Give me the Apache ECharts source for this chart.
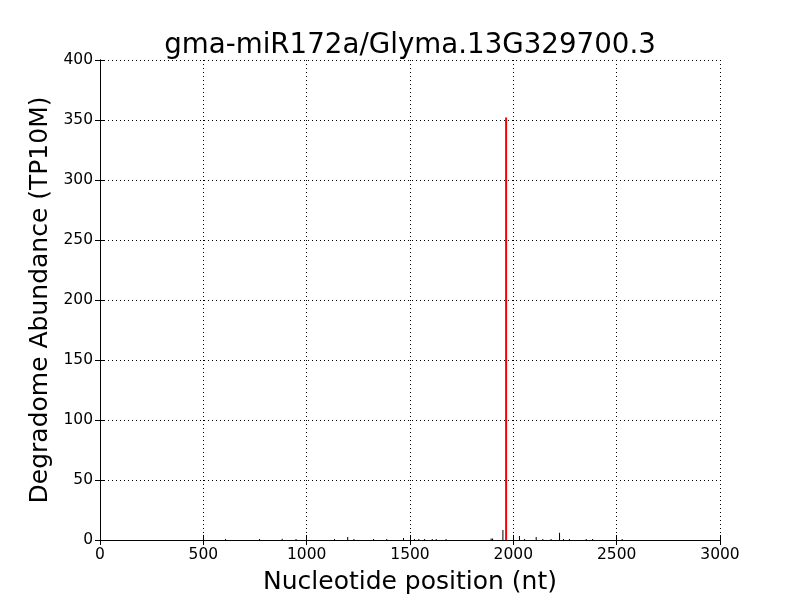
<!DOCTYPE html>
<html><head><meta charset="utf-8">
<script src="https://cdn.jsdelivr.net/npm/echarts@6/dist/echarts.min.js"></script>
<style>html,body{margin:0;padding:0;background:#fff}#c{width:800px;height:600px}</style>
</head><body><div id="c"></div>
<script>
const titleText = 'gma-miR172a/Glyma.13G329700.3';
const xLabel = 'Nucleotide position (nt)';
const yLabel = 'Degradome Abundance (TP10M)';
const blackPos = [610, 774, 884, 951, 1137, 1201, 1231, 1326, 1390, 1471, 1524, 1545, 1573, 1610, 1629, 1677, 1895, 1902, 1952, 2032, 2057, 2113, 2145, 2185, 2226, 2245, 2274, 2355, 2386, 2529];
const blackVal = [0.8, 0.8, 1, 0.8, 0.8, 2.5, 0.8, 0.8, 0.8, 1.7, 0.8, 0.8, 0.8, 0.8, 0.8, 0.8, 1.2, 1.2, 8.3, 3.3, 0.8, 2.5, 0.8, 0.8, 6, 0.8, 0.8, 0.8, 0.8, 0.8];
const redPos = [1965];
const redVal = [352];

const font = 'DejaVu Sans';
const chart = echarts.init(document.getElementById('c'), null, {renderer: 'canvas'});
const tickIn = {show: true, inside: true, length: 5, lineStyle: {color: '#000', width: 1}};
const split = {show: true, lineStyle: {color: '#000', type: [1, 3], width: 1}};
const plain = v => String(v);
chart.setOption({
  animation: false,
  title: {text: titleText, left: 405, top: 27, textAlign: 'center',
    textStyle: {fontFamily: font, fontSize: 27.7, fontWeight: 'normal', color: '#000'}},
  grid: {left: 100, right: 80, top: 60, bottom: 60, containLabel: false},
  xAxis: [
    {type: 'value', min: 0, max: 3000, interval: 500, position: 'bottom',
     name: xLabel, nameLocation: 'middle', nameGap: 30,
     nameTextStyle: {fontFamily: font, fontSize: 25, color: '#000'},
     axisLine: {show: true, lineStyle: {color: '#000', width: 1}},
     axisTick: tickIn, splitLine: split,
     axisLabel: {fontFamily: font, fontSize: 15.5, color: '#000', margin: 7, formatter: plain}},
    {type: 'value', min: 0, max: 3000, interval: 500, position: 'top',
     axisLine: {show: true, lineStyle: {color: '#000', width: 1}},
     axisTick: tickIn, splitLine: {show: false}, axisLabel: {show: false}}
  ],
  yAxis: [
    {type: 'value', min: 0, max: 400, interval: 50, position: 'left',
     name: yLabel, nameLocation: 'middle', nameGap: 44,
     nameTextStyle: {fontFamily: font, fontSize: 25, color: '#000'},
     axisLine: {show: true, lineStyle: {color: '#000', width: 1}},
     axisTick: tickIn, splitLine: split,
     axisLabel: {fontFamily: font, fontSize: 15.5, color: '#000', margin: 7, formatter: plain}},
    {type: 'value', min: 0, max: 400, interval: 50, position: 'right',
     axisLine: {show: true, lineStyle: {color: '#000', width: 1}},
     axisTick: tickIn, splitLine: {show: false}, axisLabel: {show: false}}
  ],
  series: [
    {type: 'bar', xAxisIndex: 0, yAxisIndex: 0, barWidth: 1, barGap: '-100%',
     itemStyle: {color: '#000'},
     data: blackPos.map((p, i) => [p, blackVal[i]])},
    {type: 'bar', xAxisIndex: 0, yAxisIndex: 0, barWidth: 2, barGap: '-100%',
     itemStyle: {color: '#ff0000'},
     data: redPos.map((p, i) => [p, redVal[i]])}
  ]
});
</script></body></html>
